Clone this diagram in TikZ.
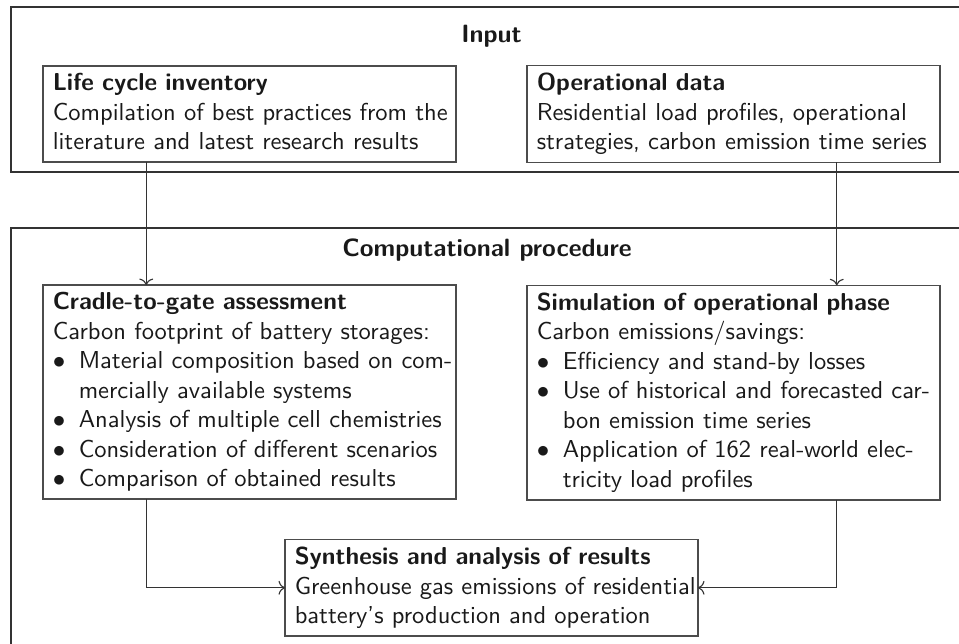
\documentclass[tikz,border=0pt]{standalone}
\usepackage{xcolor}
\usepackage{tikz}
\usetikzlibrary{arrows.meta,positioning,calc}
\newcommand{\bodyfont}{\sffamily\fontsize{9.8}{11.8}\selectfont}
% justified line, bullet, bullet lines, continued line, last-line depth
\newcommand{\jl}[1]{\makebox[\linewidth][s]{#1}}
\newcommand{\bul}{\makebox[10.4pt][l]{$\bullet$}}
\newcommand{\bjl}[1]{\bul\makebox[\dimexpr\linewidth-10.4pt\relax][s]{#1}}
\newcommand{\bnl}[1]{\bul #1}
\newcommand{\cnt}[1]{\hspace*{10.4pt}#1}
\newcommand{\dn}{\rule[-1.9pt]{0pt}{0pt}}
\begin{document}
\begin{tikzpicture}[
  x=0.4pt, y=-0.4pt,
  font=\bodyfont,
  frame/.style={draw=black!80, line width=0.8pt},
  title/.style={font=\sffamily\bfseries\fontsize{10}{12}\selectfont, text=black!90, anchor=base},
  box/.style={draw=black!70, line width=0.5pt, text=black!90, inner xsep=3.9pt, inner ysep=3pt,
    text width=157.4pt, align=left, outer sep=0pt},
  arr/.style={-{To[length=2.6pt, width=5.6pt]}, line width=0.45pt, black!80}
]
\clip (0,0) rectangle (959,643);
% ---------------- frames
\draw[frame] (11,7) rectangle (990,172);
\draw[frame] (11,228) rectangle (990,680);
\node[title] (tin) at (491.5,42.7) {Input};
\node[title] (tcp) at (487,256) {Computational procedure};
% ---------------- input row
\node[box, anchor=north west] (lci) at (43,66) {\textbf{Life cycle inventory}\\
\jl{Compilation of best practices from the}\\
literature and latest research results\dn};
\node[box, right=28.4pt of lci] (opd) {\textbf{Operational data}\\
\jl{Residential load profiles, operational}\\
strategies, carbon emission time series\dn};
% ---------------- procedure
\node[box, below=49.2pt of lci] (c2g) {\textbf{Cradle-to-gate assessment}\\
Carbon footprint of battery storages:\\
\bjl{Material composition based on com-}\\
\cnt{mercially available systems}\\
\bnl{Analysis of multiple cell chemistries}\\
\bnl{Consideration of different scenarios}\\
\bnl{Comparison of obtained results}\dn};
\node[box, below=49.2pt of opd] (sim) {\textbf{Simulation of operational phase}\\
Carbon emissions/savings:\\
\bnl{Efficiency and stand-by losses}\\
\bjl{Use of historical and forecasted car-}\\
\cnt{bon emission time series}\\
\bjl{Application of 162 real-world elec-}\\
\cnt{tricity load profiles}\dn};
\coordinate (mid) at ($(c2g.south)!0.5!(sim.south)$);
\node[box, below=16pt of mid] (syn) {\textbf{Synthesis and analysis of results}\\
\jl{Greenhouse gas emissions of residential}\\
battery's production and operation\dn};
% ---------------- arrows
\draw[arr] ($(lci.south west)!0.25!(lci.south east)$) -- ($(c2g.north west)!0.25!(c2g.north east)$);
\draw[arr] ($(opd.south west)!0.75!(opd.south east)$) -- ($(sim.north west)!0.75!(sim.north east)$);
\draw[arr] ($(c2g.south west)!0.25!(c2g.south east)$) |- (syn.west);
\draw[arr] ($(sim.south west)!0.75!(sim.south east)$) |- (syn.east);
\end{tikzpicture}
\end{document}
